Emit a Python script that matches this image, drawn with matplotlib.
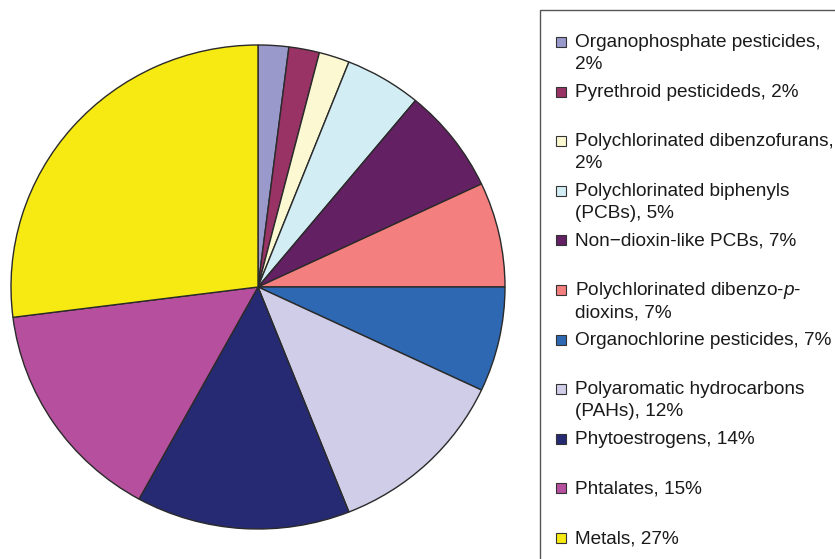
import matplotlib
matplotlib.use("Agg")
import matplotlib.pyplot as plt
from matplotlib.patches import Rectangle

plt.rcParams['font.family'] = ['Liberation Sans', 'DejaVu Sans']
plt.rcParams['mathtext.fontset'] = 'custom'
plt.rcParams['mathtext.rm'] = 'Liberation Sans'
plt.rcParams['mathtext.it'] = 'Liberation Sans:italic'

labels = [
    "Organophosphate pesticides,\n2%",
    "Pyrethroid pesticideds, 2%",
    "Polychlorinated dibenzofurans,\n2%",
    "Polychlorinated biphenyls\n(PCBs), 5%",
    "Non\u2212dioxin-like PCBs, 7%",
    "Polychlorinated dibenzo-$\\mathit{p}$-\ndioxins, 7%",
    "Organochlorine pesticides, 7%",
    "Polyaromatic hydrocarbons\n(PAHs), 12%",
    "Phytoestrogens, 14%",
    "Phtalates, 15%",
    "Metals, 27%",
]
values = [2, 2, 2, 5, 7, 7, 7, 12, 14, 15, 27]
colors = ["#9999cc", "#993366", "#fcf9d2", "#d3edf4", "#632063", "#f47f7f",
          "#2e68b2", "#cfcde8", "#262a72", "#b6509e", "#f6ea12"]

W, H = 835, 559
fig = plt.figure(figsize=(W / 100, H / 100), dpi=100)

# pie, centre ~ (258, 287) px, slightly squashed: rx 247, ry 242
cx, cy, rx, ry = 258, 287, 247, 242
ax = fig.add_axes([(cx - rx) / W, (H - cy - ry) / H, 2 * rx / W, 2 * ry / H])
ax.pie(values, colors=colors, startangle=90, counterclock=False, radius=1,
       wedgeprops=dict(edgecolor="#2a2a2a", linewidth=1.0))
ax.set_aspect('auto')
ax.set_xlim(-1.0, 1.0)
ax.set_ylim(-1.0, 1.0)
ax.axis('off')

# legend box, runs off the right and bottom edges
box = Rectangle((540 / W, -0.05), 0.5, (H - 10) / H + 0.05, transform=fig.transFigure,
                facecolor="none", edgecolor="#555555", linewidth=1.0)
fig.patches.append(box)

y0, step = 42, 49.6
for i, (lab, col) in enumerate(zip(labels, colors)):
    y = y0 + i * step
    sq = Rectangle((556 / W, 1 - (y + 5) / H), 10 / W, 10 / H, transform=fig.transFigure,
                   facecolor=col, edgecolor="#333333", linewidth=0.8)
    fig.patches.append(sq)
    lines = lab.split("\n")
    for j, ln in enumerate(lines):
        fig.text(575 / W, 1 - (y + 5 + 22 * j) / H, ln, fontsize=13.7, color="#1a1a1a",
                 ha='left', va='baseline')

fig.savefig("out.png", dpi=100)
